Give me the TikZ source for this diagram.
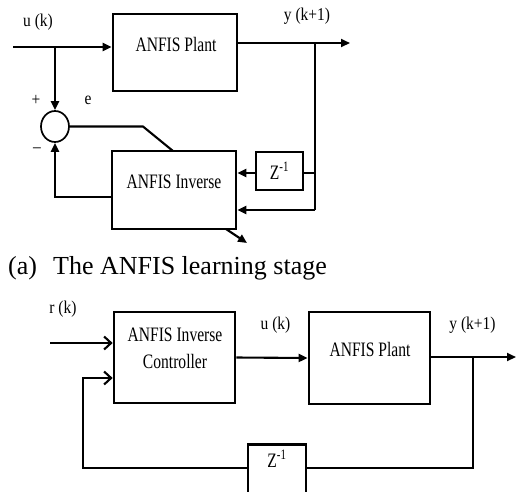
\documentclass[tikz,border=0pt]{standalone}
\usepackage{fontspec}
\setmainfont{Liberation Serif}
\newfontfamily\boxfont[FakeStretch=0.76]{Liberation Serif}
\newfontfamily\lblfont[FakeStretch=0.86]{Liberation Serif}
\usetikzlibrary{arrows.meta,shapes.geometric}
\begin{document}
\begin{tikzpicture}[x=1pt,y=-1pt,
  box/.style={draw,line width=2.7pt,inner sep=0pt},
  wire/.style={line width=2.1pt},
  arr/.style={wire,-{Triangle[length=9pt,width=8pt]}},
  oarr/.style={wire,-{Straight Barb[length=7pt,width=13pt]}},
  boxtxt/.style={font=\boxfont\fontsize{20.5}{27}\selectfont,inner sep=0pt},
  lbl/.style={font=\lblfont\fontsize{18}{20}\selectfont,inner sep=0pt}]
\useasboundingbox (0,0) rectangle (517,491);
\clip (0,0) rectangle (517,491);
% ---------- top diagram ----------
\node[box,minimum width=124pt,minimum height=77pt] (plantA) at (175,52.5) {};
\node[boxtxt] (plantAt) at (176,44) {ANFIS Plant};
\node[box,minimum width=124pt,minimum height=78pt] (invA) at (174,190) {};
\node[boxtxt] (invAt) at (174,182) {ANFIS Inverse};
\node[box,minimum width=47pt,minimum height=38pt,boxtxt] (zA) at (279.5,171) {Z\textsuperscript{-1}};
\node[draw,ellipse,line width=1.7pt,minimum width=28pt,minimum height=31pt,inner sep=0pt] (sum) at (55,126.5) {};

\coordinate (uin) at (13,47);
\draw[arr] (uin) -- (uin -| plantA.west);
\coordinate (br1) at (55,47);
\draw[arr] (br1) -- (sum.north);
\coordinate (yout) at (350,43);
\draw[arr] (plantA.east |- yout) -- (yout);
\coordinate (br2) at (315,43);
\coordinate (br2b) at (315,210);
\draw[wire] (br2) -- (br2b);
\draw[arr] (br2b) -- (br2b -| invA.east);
\coordinate (br2z) at (315,173);
\draw[wire] (br2z) -- (zA.east |- br2z);
\draw[arr] (zA.west |- br2z) -- (invA.east |- br2z);
\coordinate (eknee) at (143,126.5);
\coordinate (etop) at (173,151);
\draw[wire] (sum.east) -- (eknee) -- (etop);
\coordinate (fbA) at (55,197);
\draw[arr] (fbA -| invA.west) -- (fbA) -- (sum.south);
\coordinate (dstart) at (226,229);
\coordinate (dend) at (247,243);
\draw[arr] (dstart) -- (dend);

\node[lbl] (uA) at (38,22) {u (k)};
\node[lbl] (yA) at (307,16) {y (k+1)};
\node[lbl] (plus) at (36,100) {+};
\node[lbl] (eA) at (88,100) {e};
\node[lbl] (minus) at (37,150) {–};

% ---------- caption ----------
\node[anchor=base west,inner sep=0pt,font=\fontsize{26}{30}\selectfont] (cap) at (8,274)
  {\makebox[45pt][l]{(a)}The ANFIS learning stage};

% ---------- bottom diagram ----------
\node[box,minimum width=121pt,minimum height=91pt] (ctrl) at (174.5,357.5) {};
\node[boxtxt,align=center] (ctrlt) at (175,348.5) {ANFIS Inverse\\Controller};
\node[box,minimum width=121pt,minimum height=92pt] (plantB) at (369.5,358) {};
\node[boxtxt] (plantBt) at (370,349) {ANFIS Plant};
\node[box,minimum width=58pt,minimum height=80pt,anchor=north] (zB) at (277,443) {};
\node[boxtxt] (zBt) at (277,459) {Z\textsuperscript{-1}};

\coordinate (rin) at (50,343);
\draw[oarr] (rin) -- (rin -| ctrl.west);
\draw[arr] (ctrl.east) -- (plantB.west);
\coordinate (youtB) at (516,357);
\draw[arr] (plantB.east |- youtB) -- (youtB);
\coordinate (brB) at (473,357);
\coordinate (brBb) at (473,468);
\draw[wire] (brB) -- (brBb) -- (brBb -| zB.east);
\coordinate (fbB) at (83,468);
\coordinate (fbBt) at (83,378);
\draw[oarr] (fbB -| zB.west) -- (fbB) -- (fbBt) -- (fbBt -| ctrl.west);

\node[lbl] (rB) at (63,309) {r (k)};
\node[lbl] (uB) at (275.5,325) {u (k)};
\node[lbl] (yB) at (472.5,325) {y (k+1)};
\end{tikzpicture}
\end{document}
